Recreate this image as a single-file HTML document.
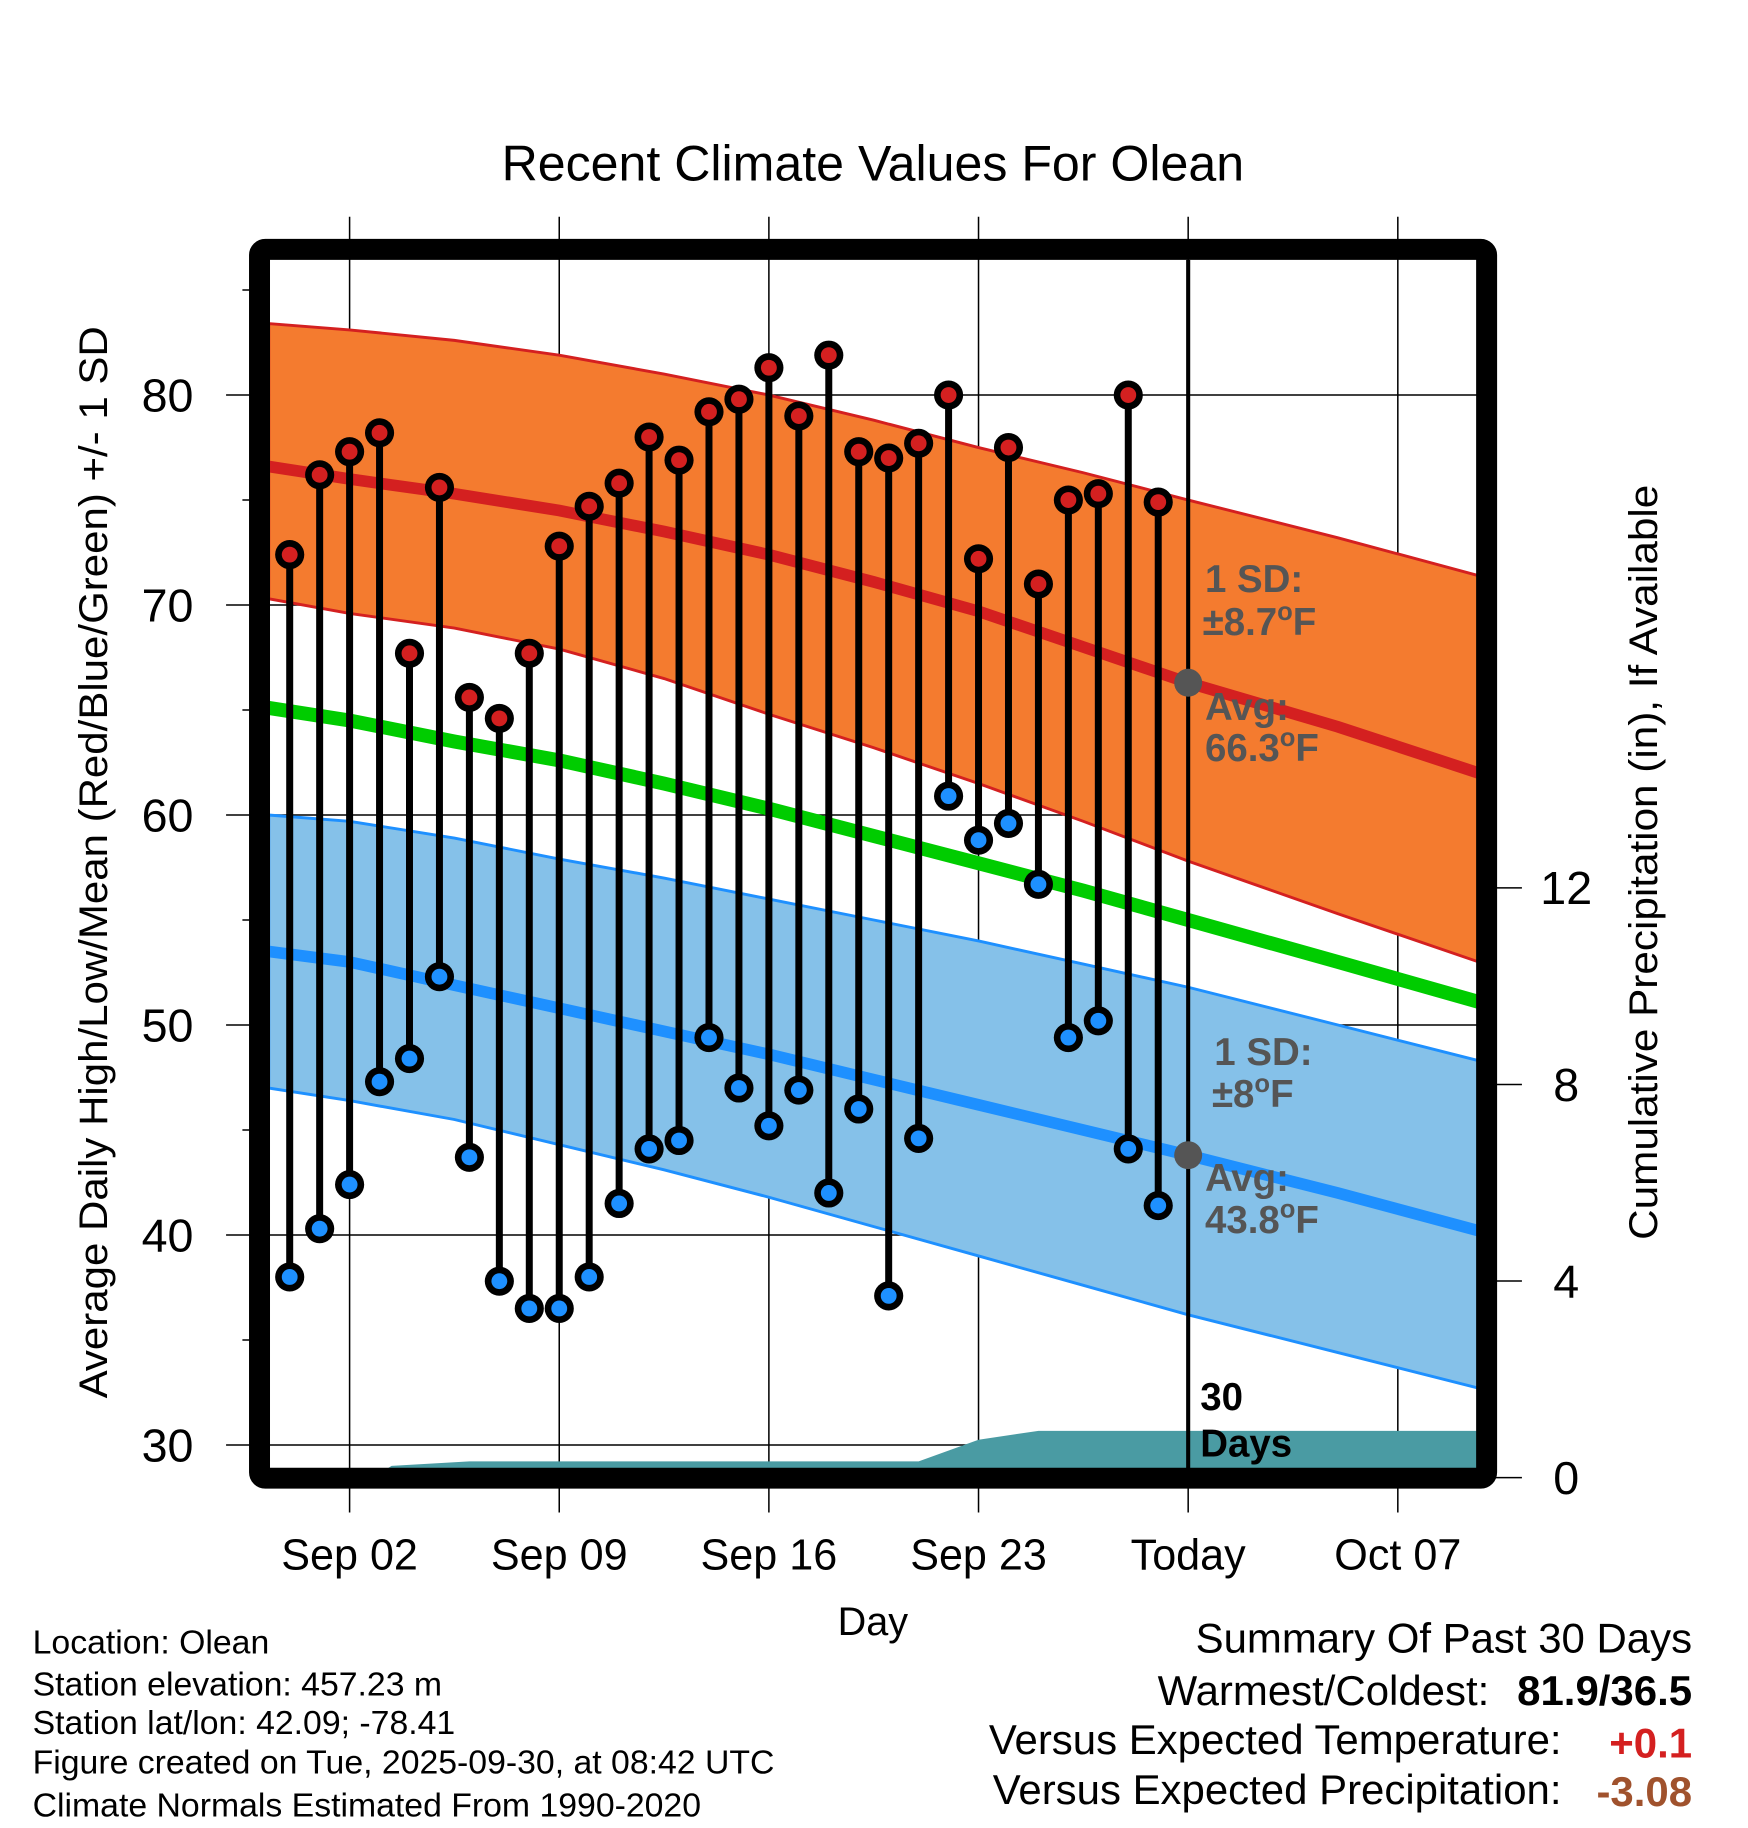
<!DOCTYPE html>
<html><head><meta charset="utf-8">
<style>
html,body{margin:0;padding:0;background:#fff;}
svg{display:block;}
text{font-family:"Liberation Sans",Arial,sans-serif;}
</style></head>
<body>
<svg id="chart" width="1748" height="1828" viewBox="0 0 1500 1568.7" preserveAspectRatio="none" xmlns="http://www.w3.org/2000/svg">
<defs><clipPath id="plotclip"><rect x="231.7" y="223" width="1036.7" height="1036.8"/></clipPath></defs>
<text x="749" y="155" font-size="43" text-anchor="middle">Recent Climate Values For Olean</text>
<g id="grid"></g>
<g id="bands" clip-path="url(#plotclip)"></g>
<g id="marks"></g>
<g id="axes"></g>
<text x="749" y="1403" font-size="34" text-anchor="middle">Day</text>
<text transform="translate(92,740) rotate(-90)" font-size="34" text-anchor="middle" textLength="920" lengthAdjust="spacingAndGlyphs">Average Daily High/Low/Mean (Red/Blue/Green) +/- 1 SD</text>
<text transform="translate(1422,740) rotate(-90)" font-size="34" text-anchor="middle" textLength="648" lengthAdjust="spacingAndGlyphs">Cumulative Precipitation (in), If Available</text>
<g font-size="29">
<text x="28" y="1419">Location: Olean</text>
<text x="28" y="1455">Station elevation: 457.23 m</text>
<text x="28" y="1488">Station lat/lon: 42.09; -78.41</text>
<text x="28" y="1522">Figure created on Tue, 2025-09-30, at 08:42 UTC</text>
<text x="28" y="1559">Climate Normals Estimated From 1990-2020</text>
</g>
<g font-size="36">
<text x="1452" y="1418" text-anchor="end">Summary Of Past 30 Days</text>
<text x="1278" y="1463" text-anchor="end">Warmest/Coldest:</text>
<text x="1452" y="1463" text-anchor="end" font-weight="bold">81.9/36.5</text>
<text x="1340" y="1505" text-anchor="end">Versus Expected Temperature:</text>
<text x="1452" y="1508" text-anchor="end" font-weight="bold" fill="#d42020">+0.1</text>
<text x="1340" y="1548" text-anchor="end">Versus Expected Precipitation:</text>
<text x="1452" y="1550" text-anchor="end" font-weight="bold" fill="#a0522d">-3.08</text>
</g>
</svg>
<script>
// ---- data ----
// day index: 0 = Aug 31, 1 = Sep 1, ... 30 = Sep 30 (Today)
const obsDays = [0,1,2,3,4,5,6,7,8,9,10,11,12,13,14,15,16,17,18,19,20,21,22,23,24,25,26,27,28,29];
const highs = [72.4,76.2,77.3,78.2,67.7,75.6,65.6,64.6,67.7,72.8,74.7,75.8,78.0,76.9,79.2,79.8,81.3,79.0,81.9,77.3,77.0,77.7,80.0,72.2,77.5,71.0,75.0,75.3,80.0,74.9];
const lows = [38.0,40.3,42.4,47.3,48.4,52.3,43.7,37.8,36.5,36.5,38.0,41.5,44.1,44.5,49.4,47.0,45.2,46.9,42.0,46.0,37.1,44.6,60.9,58.8,59.6,56.7,49.4,50.2,44.1,41.4];
const normDays = [-0.7,2,5.5,9,12.5,16,19.5,23,26.5,30,35,39.7];
const highAvg = [76.6,76.0,75.3,74.5,73.5,72.4,71.1,69.7,68.0,66.3,64.2,62.0];
const highUpper = [83.4,83.1,82.6,81.9,81.0,80.0,78.8,77.5,76.3,75.0,73.2,71.4];
const highLower = [70.3,69.6,68.9,67.9,66.5,64.8,63.2,61.5,59.7,57.8,55.3,53.0];
const meanAvg = [65.1,64.5,63.5,62.6,61.5,60.3,59.0,57.7,56.4,55.0,53.0,51.1];
const lowAvg = [53.5,53.0,51.9,50.8,49.7,48.6,47.4,46.2,45.0,43.8,42.0,40.2];
const lowUpper = [60.0,59.7,58.9,57.9,57.0,56.0,55.0,54.0,52.9,51.8,50.0,48.3];
const lowLower = [47.0,46.4,45.5,44.3,43.1,41.8,40.4,39.0,37.6,36.2,34.4,32.7];
const precipDays = [-0.7,2.8,3.4,6,21,23,25,39.7];
const precipCum = [0,0,0.24,0.33,0.33,0.77,0.95,0.95];
const yTicks = [30,40,50,60,70,80];
const y2Ticks = [0,4,8,12];
const xTickDays = [2,9,16,23,30,37];
const xTickLabels = ["Sep 02","Sep 09","Sep 16","Sep 23","Today","Oct 07"];

// ---- scales ----
const X = d => 300 + (d - 2) * 25.7;
const Y = v => 339 + (80 - v) * 18.02;
const PY = p => 1268 - p * 42.17;
const L = 231.7, R = 1268.4, T = 223, B = 1259.8;
const NS = "http://www.w3.org/2000/svg";
function mk(tag, attrs, parent){const e=document.createElementNS(NS,tag);for(const k in attrs)e.setAttribute(k,attrs[k]);parent.appendChild(e);return e;}
const grid=document.getElementById('grid'), bands=document.getElementById('bands'), marks=document.getElementById('marks'), axes=document.getElementById('axes');

function linePts(xs, ys, f){return xs.map((d,i)=>X(d).toFixed(1)+','+f(ys[i]).toFixed(1));}
function bandPath(xs, up, lo){
  const a=linePts(xs,up,Y), b=linePts(xs,lo,Y).reverse();
  return 'M'+a.join('L')+'L'+b.join('L')+'Z';
}
let pp = 'M'+X(precipDays[0])+','+PY(0);
precipDays.forEach((d,i)=>{pp+='L'+X(d).toFixed(1)+','+PY(precipCum[i]).toFixed(1);});
pp += 'L'+X(precipDays[precipDays.length-1])+','+PY(0)+'Z';
let e;
e=mk('path',{d:pp,fill:'#4a9ba3'},bands);


e=mk('path',{d:bandPath(normDays,highUpper,highLower),fill:'#f47b2f',stroke:'#d42020','stroke-width':2.5},bands);


e=mk('path',{d:bandPath(normDays,lowUpper,lowLower),fill:'#85c1e9',stroke:'#1e90ff','stroke-width':2.5},bands);


e=mk('polyline',{points:linePts(normDays,highAvg,Y).join(' '),fill:'none',stroke:'#d42020','stroke-width':10},bands);


e=mk('polyline',{points:linePts(normDays,meanAvg,Y).join(' '),fill:'none',stroke:'#00cc00','stroke-width':12},bands);


e=mk('polyline',{points:linePts(normDays,lowAvg,Y).join(' '),fill:'none',stroke:'#1e90ff','stroke-width':10},bands);



xTickDays.forEach((d,i)=>{
  const g=mk('line',{x1:X(d),x2:X(d),y1:186,y2:1298,stroke:'#000','stroke-width':1.3},grid);
  
  
  const t=mk('text',{x:X(d),y:1347,'font-size':37,'text-anchor':'middle'},axes);
  t.textContent=xTickLabels[i];
  
  
});
yTicks.forEach(v=>{
  const g=mk('line',{x1:194,x2:R,y1:Y(v),y2:Y(v),stroke:'#000','stroke-width':1.3},grid);
  
  
  const t=mk('text',{x:166,y:Y(v)+14,'font-size':40,'text-anchor':'end'},axes);
  t.textContent=v;
  
  
});
[35,45,55,65,75,85].forEach(v=>{
  const g=mk('line',{x1:208,x2:222,y1:Y(v),y2:Y(v),stroke:'#000','stroke-width':1.3},grid);
  
  
});
y2Ticks.forEach(p=>{
  const g=mk('line',{x1:1283,x2:1306,y1:PY(p),y2:PY(p),stroke:'#000','stroke-width':1.3},axes);
  
  
  const t=mk('text',{x:1344,y:PY(p)+14,'font-size':40,'text-anchor':'middle'},axes);
  t.textContent=p;
  
  
});

e=mk('line',{x1:X(30),x2:X(30),y1:T,y2:B,stroke:'#000','stroke-width':3.5},marks);



obsDays.forEach((d,i)=>{
  const s=mk('line',{x1:X(d),x2:X(d),y1:Y(highs[i]),y2:Y(lows[i]),stroke:'#000','stroke-width':6},marks);
  
  
});
obsDays.forEach((d,i)=>{
  [[highs[i],'#d42020','high-point'],[lows[i],'#1e90ff','low-point']].forEach(([v,c,n])=>{
    const o=mk('circle',{cx:X(d),cy:Y(v),r:12.5,fill:'#000'},marks);
    
    
    const c2=mk('circle',{cx:X(d),cy:Y(v),r:6.8,fill:c},marks);
    
    
  });
});
[[66.3,'today-high-avg-marker'],[43.8,'today-low-avg-marker']].forEach(([v,n])=>{
  const c=mk('circle',{cx:X(30),cy:Y(v),r:12,fill:'#555'},marks);
  
  
});

e=mk('rect',{x:222.7,y:214,width:1053,height:1054.5,rx:5,fill:'none',stroke:'#000','stroke-width':18},axes);



function ann(x,y,txt,name,col){
  const t=mk('text',{x:x,y:y,'font-size':33,'font-weight':'bold',fill:col},axes);
  t.innerHTML=txt;
  
  
}
ann(1034,508,'1 SD:','high-sd-label','#555');
ann(1032,545,'±8.7<tspan dy="-13" font-size="22">o</tspan><tspan dy="13">F</tspan>','high-sd-value','#555');
ann(1034,618,'Avg:','high-avg-label','#555');
ann(1034,653,'66.3<tspan dy="-13" font-size="22">o</tspan><tspan dy="13">F</tspan>','high-avg-value','#555');
ann(1042,914,'1 SD:','low-sd-label','#555');
ann(1040,950,'±8<tspan dy="-13" font-size="22">o</tspan><tspan dy="13">F</tspan>','low-sd-value','#555');
ann(1034,1022,'Avg:','low-avg-label','#555');
ann(1034,1058,'43.8<tspan dy="-13" font-size="22">o</tspan><tspan dy="13">F</tspan>','low-avg-value','#555');
ann(1030,1210,'30','days-count-label','#000');
ann(1030,1250,'Days','days-label','#000');
</script>
</body></html>
